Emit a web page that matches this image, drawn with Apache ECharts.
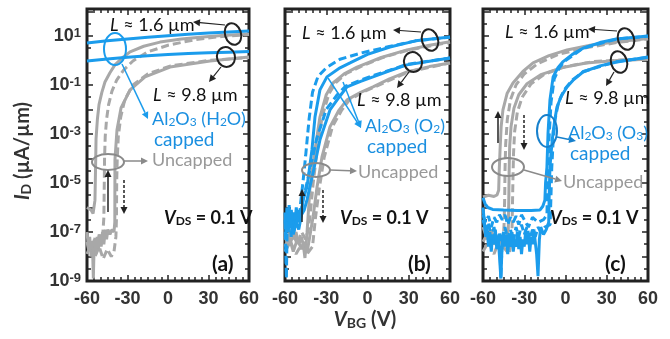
<!DOCTYPE html>
<html>
<head>
<meta charset="utf-8">
<script src="https://cdn.jsdelivr.net/npm/echarts@6/dist/echarts.min.js"></script>
<style>html,body{margin:0;background:#fff}#main{width:670px;height:339px}</style>
</head>
<body>
<div id="main"></div>
<script>
// V_BG (V) vs log10 of I_D (uA/um)
// panel (a) : Al2O3 (H2O) capped
var aBlue16 = [[-60,0.71],[-45,0.8],[-30,0.88],[-15,0.95],[0,1.01],[15,1.07],[30,1.12],[45,1.16],[60,1.2]];
var aBlue98 = [[-60,-0.02],[-45,0.06],[-30,0.13],[-15,0.19],[0,0.24],[15,0.28],[30,0.31],[45,0.34],[60,0.37]];
var aGrey16Fwd = [[-60,-6.0],[-57,-6.1],[-55.5,-6.25],[-54.3,-6.2],[-54.1,-5.7],[-53.6,-4.2],[-53.3,-3.2],[-52.3,-2.4],[-51.1,-1.8],[-49,-1.3],[-46.7,-0.88],[-43,-0.5],[-39.3,-0.18],[-34,0.1],[-28.1,0.35],[-18,0.58],[-5.9,0.75],[10,0.88],[23.7,0.95],[40,1.02],[60,1.08]];
var aGrey16Rev = [[-60,-7.4],[-58.5,-7.8],[-57,-7.3],[-55.5,-7.7],[-54,-7.2],[-52.5,-7.6],[-51,-7.1],[-49.5,-7.5],[-48.2,-7.0],[-47.5,-6.4],[-47.2,-5.0],[-47,-4.0],[-46.5,-3.1],[-45.5,-2.4],[-44,-1.8],[-41.5,-1.25],[-38,-0.8],[-33,-0.4],[-26,-0.02],[-15,0.35],[0,0.62],[20,0.85],[40,0.98],[60,1.06]];
var aGrey98Fwd = [[-60,-7.0],[-59,-7.6],[-58,-7.2],[-57,-8.0],[-56,-7.4],[-55.3,-8.9],[-54.6,-7.3],[-53.5,-7.9],[-52.5,-7.2],[-51.5,-7.7],[-50.5,-7.1],[-49.5,-7.6],[-48.5,-7.0],[-47.5,-7.5],[-46.5,-6.9],[-45.5,-7.3],[-44.5,-6.9],[-43,-7.1],[-41.5,-6.9],[-40,-7.0],[-39.4,-6.6],[-39.3,-4.06],[-37.8,-2.84],[-34.8,-1.94],[-28.1,-1.2],[-17,-0.67],[1.5,-0.27],[31.1,-0.02],[60,0.14]];
var aGrey98Rev = [[-60,-7.9],[-57,-7.5],[-54,-8.0],[-51,-7.6],[-48,-8.1],[-45,-7.7],[-42,-8.0],[-40,-7.8],[-38.6,-7.2],[-38.2,-6.5],[-38,-5.0],[-37.6,-4.0],[-36.8,-3.1],[-35,-2.3],[-32,-1.6],[-26,-1.0],[-15,-0.55],[2,-0.22],[30,0.0],[60,0.12]];

// panel (b) : Al2O3 (O2) capped
var bBlue16Fwd = [[-60,-6.2],[-59.3,-7.1],[-58.6,-6.0],[-57.8,-6.8],[-57,-5.9],[-56.2,-6.6],[-55.4,-6.1],[-54.5,-6.9],[-53.7,-6.2],[-52.8,-6.7],[-51.8,-6.0],[-50.8,-6.6],[-49.8,-6.1],[-48.6,-6.4],[-47.5,-6.0],[-46.9,-5.69],[-44,-5.16],[-40.4,-3.65],[-38.2,-2.31],[-34.6,-1.2],[-29.5,-0.67],[-20,-0.3],[-12.7,-0.1],[0,0.25],[16.3,0.55],[35,0.8],[60,0.96]];
var bBlue16Rev = [[-60,-6.5],[-59,-8.9],[-58.3,-6.3],[-57.5,-7.0],[-56.5,-6.4],[-55.5,-7.2],[-54.5,-6.5],[-53.5,-7.0],[-52.5,-6.3],[-51.5,-6.8],[-50.5,-6.2],[-49.5,-6.6],[-48.8,-5.9],[-47,-5.0],[-45,-3.9],[-42.5,-2.4],[-40,-1.3],[-36,-0.65],[-30,-0.3],[-20,0.05],[-5,0.3],[15,0.56],[35,0.8],[60,0.95]];
var bGrey16Fwd = [[-60,-7.0],[-58,-7.4],[-56,-6.9],[-54,-7.3],[-52,-7.0],[-50,-7.5],[-48,-7.2],[-46.5,-7.6],[-45.5,-8.06],[-44,-7.04],[-41.8,-5.16],[-38.2,-3.65],[-34.6,-2.31],[-30,-1.4],[-25.1,-0.92],[-17,-0.55],[-7.6,-0.27],[10,0.12],[28.7,0.43],[45,0.62],[60,0.76]];
var bGrey16Rev = [[-60,-7.2],[-57,-7.6],[-54,-7.1],[-51,-7.5],[-48,-7.0],[-45,-7.3],[-43,-6.9],[-41.5,-6.2],[-39.5,-5.0],[-36.5,-3.6],[-33,-2.3],[-28,-1.35],[-23,-0.9],[-15,-0.52],[-5,-0.25],[10,0.1],[30,0.43],[60,0.74]];
var bBlue98Fwd = [[-60,-6.6],[-58,-7.0],[-56,-6.5],[-54,-7.1],[-52,-6.6],[-50,-6.9],[-48,-6.3],[-46,-6.1],[-44,-5.69],[-39.6,-4.59],[-34.6,-3.24],[-27.3,-2.02],[-20,-1.45],[-14.9,-1.08],[-5,-0.85],[4,-0.67],[16,-0.42],[28.7,-0.18],[45,-0.03],[60,0.1]];
var bBlue98Rev = [[-60,-6.9],[-57,-6.4],[-54,-7.0],[-51,-6.5],[-48.5,-6.2],[-46.5,-5.6],[-42,-4.5],[-37,-3.2],[-30,-2.0],[-22,-1.4],[-16,-1.05],[-5,-0.8],[5,-0.6],[28.7,-0.16],[60,0.1]];
var bGrey98Fwd = [[-60,-7.6],[-57,-7.2],[-54,-7.8],[-51,-7.3],[-48,-7.7],[-46,-7.4],[-44,-7.86],[-39.6,-6.39],[-36.7,-5.16],[-33.1,-3.94],[-27.3,-2.71],[-21,-2.05],[-14.9,-1.61],[-5,-1.3],[4,-1.08],[16,-0.75],[28.7,-0.47],[45,-0.25],[60,-0.1]];
var bGrey98Rev = [[-60,-7.8],[-56,-7.4],[-52,-7.9],[-48,-7.5],[-44,-7.9],[-40,-7.6],[-37.8,-6.4],[-35,-5.2],[-31.5,-3.95],[-25.5,-2.7],[-19,-2.05],[-13,-1.6],[-3,-1.28],[6,-1.06],[30,-0.46],[60,-0.1]];

// panel (c) : Al2O3 (O3) capped
var cGrey16Fwd = [[-60,-5.57],[-56,-5.5],[-52,-5.55],[-49.8,-5.49],[-48.6,-5.3],[-48.2,-4.5],[-47.6,-3.65],[-46.8,-2.7],[-45.5,-2.02],[-42.5,-1.35],[-38.2,-0.92],[-31,-0.45],[-23.6,-0.1],[-12,0.2],[1.1,0.43],[18,0.62],[37.4,0.76],[60,0.9]];
var cGrey16Rev = [[-60,-7.4],[-56,-7.0],[-52,-7.5],[-48,-7.2],[-45.5,-7.6],[-44.6,-6.6],[-44.2,-5.5],[-44,-4.5],[-43.5,-3.4],[-42.3,-2.4],[-40,-1.6],[-36,-1.0],[-30,-0.55],[-20,-0.12],[-5,0.25],[15,0.52],[37,0.73],[60,0.88]];
var cGrey98Fwd = [[-60,-6.8],[-57,-7.3],[-54,-6.9],[-51,-7.5],[-48,-7.1],[-45,-7.6],[-43,-7.3],[-41.6,-6.9],[-41.2,-5.5],[-41,-4.5],[-40.6,-3.5],[-39.6,-2.7],[-37.5,-1.95],[-34,-1.4],[-28,-0.95],[-18,-0.58],[-3,-0.3],[15,-0.1],[37,0.0],[60,0.05]];
var cGrey98Rev = [[-60,-7.8],[-56,-7.4],[-52,-7.9],[-48,-7.3],[-44,-7.7],[-41,-7.9],[-39,-7.2],[-38.6,-6.0],[-38.2,-4.8],[-37.8,-3.8],[-37,-2.9],[-35,-2.1],[-31.5,-1.5],[-25,-0.95],[-15,-0.55],[0,-0.25],[20,-0.05],[40,0.02],[60,0.05]];
var cBlue16Fwd = [[-60,-5.6],[-58.5,-5.85],[-56.5,-6.0],[-53,-6.08],[-45,-6.1],[-35,-6.12],[-25,-6.12],[-18.5,-6.1],[-16.5,-5.95],[-15,-5.7],[-14.5,-5.0],[-13.5,-4.35],[-12.7,-2.96],[-11.3,-1.61],[-9,-0.67],[-5.5,-0.3],[-2,-0.06],[5,0.25],[12.7,0.5],[25,0.73],[37,0.88],[60,1.0]];
var cBlue16Rev = [[-60,-6.3],[-58,-6.6],[-56,-6.35],[-54,-6.8],[-52,-6.4],[-50,-6.6],[-48,-6.3],[-46,-6.5],[-44,-6.3],[-42,-6.7],[-40,-6.4],[-38,-6.6],[-36,-6.35],[-34,-6.7],[-32,-6.3],[-30,-6.5],[-27,-6.8],[-24,-6.4],[-20,-6.6],[-16,-6.5],[-13.5,-6.3],[-13.2,-5.5],[-12.6,-4.3],[-11.8,-3.0],[-10.5,-1.7],[-8.2,-0.75],[-4.5,-0.3],[-1,-0.05],[12.7,0.5],[37,0.87],[60,0.99]];
var cBlue98Fwd = [[-60,-6.0],[-59,-6.6],[-58,-7.2],[-57,-6.9],[-56,-7.6],[-55,-7.0],[-54,-7.8],[-53,-7.1],[-52,-7.5],[-51,-6.9],[-50,-7.7],[-49,-7.2],[-48,-8.0],[-47,-8.9],[-46,-7.4],[-45,-7.0],[-44,-7.6],[-43,-7.1],[-42,-7.9],[-41,-7.2],[-40,-7.6],[-39,-7.0],[-38,-7.8],[-37,-7.3],[-36,-7.6],[-35,-7.0],[-34,-7.7],[-33,-7.2],[-32,-7.9],[-31,-7.3],[-30,-7.6],[-29,-7.0],[-28,-7.5],[-27,-7.1],[-26,-7.8],[-25,-7.2],[-24,-7.5],[-23,-6.9],[-22,-7.4],[-21,-7.9],[-20,-8.8],[-19,-7.3],[-18,-6.8],[-16,-7.1],[-14,-6.9],[-12.2,-6.6],[-11.9,-5.6],[-11.3,-4.35],[-10.2,-3.6],[-9.1,-2.96],[-7.7,-2.4],[-6.2,-1.9],[-3,-1.45],[1.1,-1.08],[6,-0.78],[12.7,-0.47],[25,-0.22],[37.4,-0.06],[60,0.14]];
var cBlue98Rev = [[-60,-6.5],[-58,-7.0],[-56,-6.6],[-54,-7.3],[-52,-6.8],[-50,-7.5],[-48,-7.0],[-47,-8.9],[-46,-7.2],[-44,-6.8],[-42,-7.3],[-40,-6.9],[-38,-7.4],[-36,-6.8],[-34,-7.2],[-32,-6.7],[-30,-7.1],[-28,-6.8],[-26,-7.3],[-24,-6.9],[-22,-7.2],[-20,-6.8],[-18,-7.0],[-15,-6.8],[-11.2,-6.7],[-10.6,-5.6],[-10,-4.4],[-9,-3.3],[-7.6,-2.4],[-5,-1.7],[-1,-1.2],[5,-0.8],[13,-0.45],[37,-0.05],[60,0.13]];

var xTicks = [-60, -30, 0, 30, 60];
var panelNames = ['(a)', '(b)', '(c)'];
var cappedNames = [
	'{n|Al}{sub|2}{n|O}{sub|3}{n| (H}{sub|2}{n|O)}',
	'{n|Al}{sub|2}{n|O}{sub|3}{n| (O}{sub|2}{n|)}',
	'{n|Al}{sub|2}{n|O}{sub|3}{n| (O}{sub|3}{n|)}'
];

var BLUE = '#1b9cec', GREY = '#a8a8a8', DARK = '#222', GTXT = '#999999', BTXT = '#1a8fe0';
var AF = 'Lato', TF = 'Liberation Sans';

var grids = [
	{left: 87, top: 9, width: 162, height: 272},
	{left: 285, top: 9, width: 165, height: 272},
	{left: 483, top: 9, width: 165, height: 272}
];
grids.forEach(function(g){ g.show = true; g.borderColor = DARK; g.borderWidth = 3; });

function xAx(i, top){
	return {
		type: 'value', gridIndex: i, min: -60, max: 60, interval: 30,
		position: top ? 'top' : 'bottom',
		axisLine: {show: false, onZero: false}, splitLine: {show: false},
		axisTick: {inside: true, length: 6, lineStyle: {color: DARK, width: 1.5}},
		minorTick: {show: true, splitNumber: 6, length: 4, lineStyle: {color: DARK, width: 1.5}},
		axisLabel: top ? {show: false} : {
			margin: 9, color: '#333', fontFamily: TF, fontWeight: 'bold', fontSize: 18,
			formatter: function(v){ return xTicks.indexOf(v) >= 0 ? String(v) : ''; }
		}
	};
}
function yAx(i, right){
	return {
		type: 'value', gridIndex: i, min: -9, max: 2.1, interval: 1,
		position: right ? 'right' : 'left',
		axisLine: {show: false, onZero: false}, splitLine: {show: false},
		axisTick: {inside: true, length: 6, lineStyle: {color: DARK, width: 1.5}},
		minorTick: {show: true, splitNumber: 2, length: 4, lineStyle: {color: DARK, width: 1.5}},
		axisLabel: (right || i > 0) ? {show: false} : {
			margin: 6,
			formatter: function(v){
				if (Math.abs(v % 2) === 1) return '{b|10}{s|' + v + '}';
				return '';
			},
			rich: {
				b: {fontFamily: TF, fontWeight: 'bold', fontSize: 18, color: '#333'},
				s: {fontFamily: TF, fontWeight: 'bold', fontSize: 13, color: '#333', verticalAlign: 'top'}
			}
		}
	};
}

function ln(i, data, color, dashed){
	return {
		type: 'line', xAxisIndex: i, yAxisIndex: i, data: data, symbol: 'none',
		lineStyle: {color: color, width: 3, type: dashed ? [8, 4] : 'solid'},
		z: color === BLUE ? 3 : 2
	};
}

var series = [
	ln(0, aGrey16Fwd, GREY), ln(0, aGrey16Rev, GREY, true), ln(0, aGrey98Fwd, GREY), ln(0, aGrey98Rev, GREY, true),
	ln(0, aBlue16, BLUE), ln(0, aBlue98, BLUE),
	ln(1, bGrey16Fwd, GREY), ln(1, bGrey16Rev, GREY, true), ln(1, bGrey98Fwd, GREY), ln(1, bGrey98Rev, GREY, true),
	ln(1, bBlue16Fwd, BLUE), ln(1, bBlue16Rev, BLUE, true), ln(1, bBlue98Fwd, BLUE), ln(1, bBlue98Rev, BLUE, true),
	ln(2, cGrey16Fwd, GREY), ln(2, cGrey16Rev, GREY, true), ln(2, cGrey98Fwd, GREY), ln(2, cGrey98Rev, GREY, true),
	ln(2, cBlue16Fwd, BLUE), ln(2, cBlue16Rev, BLUE, true), ln(2, cBlue98Fwd, BLUE), ln(2, cBlue98Rev, BLUE, true)
];

// annotation helpers
function arrow(x1, y1, x2, y2, color, dashed, w){
	var a = Math.atan2(y2 - y1, x2 - x1), L = 7, W = 3.5;
	var bx = x2 - L * Math.cos(a), by = y2 - L * Math.sin(a);
	return [
		{type: 'line', shape: {x1: x1, y1: y1, x2: bx, y2: by}, style: {stroke: color, lineWidth: w || 1.5, lineDash: dashed ? [3, 2] : null}, z: 10},
		{type: 'polygon', shape: {points: [[x2, y2], [bx - W * Math.sin(a), by + W * Math.cos(a)], [bx + W * Math.sin(a), by - W * Math.cos(a)]]}, style: {fill: color}, z: 10}
	];
}
function ell(cx, cy, rx, ry, color, rot){
	return {type: 'ellipse', x: cx, y: cy, rotation: rot || 0, shape: {cx: 0, cy: 0, rx: rx, ry: ry}, style: {fill: null, stroke: color, lineWidth: 2}, z: 10};
}
function rich(size, color, weight){
	return {
		n: {fontFamily: AF, fontSize: size, fill: color, fontWeight: weight || 'normal'},
		i: {fontFamily: AF, fontSize: size, fill: color, fontWeight: weight || 'normal', fontStyle: 'italic'},
		sub: {fontFamily: AF, fontSize: Math.round(size * 0.68), fill: color, fontWeight: weight || 'normal', verticalAlign: 'bottom'}
	};
}
function txt(x, y, text, size, color, weight, extra){
	var t = {type: 'text', x: x, y: y, z: 11, style: {text: text, rich: rich(size, color, weight), fill: color, fontFamily: AF, fontSize: size, verticalAlign: 'middle', align: 'left'}};
	if (extra) for (var k in extra) t[k] = extra[k];
	return t;
}

var g = [];
// panel (a)
g.push(ell(115, 49, 11, 16, BLUE));
g = g.concat(arrow(122, 64, 148, 119, BLUE));
g.push(ell(233, 34, 8, 11, DARK, 0.3), ell(226, 57, 9, 10, DARK, 0.3));
g = g.concat(arrow(225, 25, 193, 22, DARK, false, 1.2), arrow(221, 67, 209, 82, DARK, false, 1.2));
g.push(ell(108, 162, 16, 8, '#8a8a8a'));
g = g.concat(arrow(124, 161, 148, 161, '#8a8a8a'));
g = g.concat(arrow(108, 212, 108, 170, DARK), arrow(124, 180, 124, 214, DARK, true));
// panel (b)
g.push(ell(430, 40, 8, 11, DARK, 0.3), ell(413, 62, 9, 10, DARK, 0.3));
g = g.concat(arrow(421, 32, 393, 30, DARK, false, 1.2), arrow(409, 72, 397, 88, DARK, false, 1.2));
g = g.concat(arrow(328, 78, 361, 128, BLUE), arrow(343, 82, 361, 128, BLUE));
g.push(ell(316, 170, 14, 7, '#8a8a8a'));
g = g.concat(arrow(330, 170, 357, 171, '#8a8a8a'));
g = g.concat(arrow(302, 222, 302, 189, DARK), arrow(323, 190, 323, 223, DARK, true));
// panel (c)
g.push(ell(626, 39, 8, 11, DARK, 0.3), ell(619, 62, 8, 11, DARK, 0.3));
g = g.concat(arrow(617, 31, 588, 29, DARK, false, 1.2), arrow(614, 72, 606, 86, DARK, false, 1.2));
g.push(ell(547, 131, 10, 16, '#1780cc'));
g = g.concat(arrow(557, 137, 576, 141, '#1780cc'));
g.push(ell(508, 167, 16, 9, '#8a8a8a'));
g = g.concat(arrow(524, 170, 562, 181, '#8a8a8a'));
g = g.concat(arrow(498, 143, 498, 111, DARK), arrow(524, 115, 524, 150, DARK, true));

// texts
var lenPos = [[110, 25, 153, 95], [302, 33, 357, 100], [505, 32, 565, 98]];
var capPos = [[152, 119], [365, 126], [568, 133]];
var uncPos = [[152, 160], [358, 172], [563, 182]];
var vdsPos = [[164, 218], [340, 218], [550, 218]];
var labPos = [[212, 264], [408, 264], [605, 264]];
for (var i = 0; i < 3; i++){
	g.push(txt(lenPos[i][0], lenPos[i][1], '{i|L}{n| ≈ 1.6 µm}', 18, '#111'));
	g.push(txt(lenPos[i][2], lenPos[i][3], '{i|L}{n| ≈ 9.8 µm}', 18, '#111'));
	g.push(txt(capPos[i][0], capPos[i][1], cappedNames[i], 18, BTXT));
	g.push(txt(capPos[i][0] + 2, capPos[i][1] + 21, '{n|capped}', 19, BTXT));
	g.push(txt(uncPos[i][0], uncPos[i][1], '{n|Uncapped}', 18, GTXT));
	g.push(txt(vdsPos[i][0], vdsPos[i][1], '{i|V}{sub|DS}{n| = 0.1 V}', 18, '#111', 'bold'));
	g.push(txt(labPos[i][0], labPos[i][1], '{n|' + panelNames[i] + '}', 21, '#111', 'bold'));
}
g.push(txt(23, 151, '{i|I}{sub|D}{n| (µA/µm)}', 20, '#333', 'bold', {rotation: Math.PI / 2}));
g[g.length - 1].style.align = 'center';
g.push(txt(365, 320, '{i|V}{sub|BG}{n| (V)}', 20, '#333', 'bold'));
g[g.length - 1].style.align = 'center';

var chart = echarts.init(document.getElementById('main'));
chart.setOption({
	animation: false,
	backgroundColor: '#fff',
	grid: grids,
	xAxis: [xAx(0), xAx(1), xAx(2), xAx(0, true), xAx(1, true), xAx(2, true)],
	yAxis: [yAx(0), yAx(1), yAx(2), yAx(0, true), yAx(1, true), yAx(2, true)],
	series: series,
	graphic: {elements: g}
});
</script>
</body>
</html>
